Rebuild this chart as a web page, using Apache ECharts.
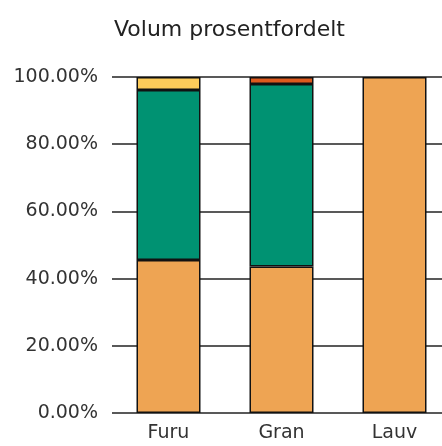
<!DOCTYPE html>
<html>
<head>
<meta charset="utf-8">
<script src="https://cdn.jsdelivr.net/npm/echarts@6/dist/echarts.min.js"></script>
<style>
	html, body { margin: 0; padding: 0; background: #fff; }
	#chart { width: 442px; height: 446px; }
</style>
</head>
<body>
<div id="chart"></div>
<script>
// Categories and stacked shares (percent); '-' = no segment
const categories = ['Furu', 'Gran', 'Lauv'];
const seriesNames = ['A', 'B', 'C', 'D'];
const valuesA = [45.5, 43.6, 100];
const valuesB = [50.6, 54.3, '-'];
const valuesC = [3.9, '-', '-'];
const valuesD = ['-', 2.1, '-'];
const colors = ['#eea453', '#009272', '#fdcc5a', '#dd5a1e'];

const seriesData = [valuesA, valuesB, valuesC, valuesD];

const chart = echarts.init(document.getElementById('chart'));
chart.setOption({
	animation: false,
	title: {
		text: 'Volum prosentfordelt',
		left: 109,
		top: 14,
		textStyle: { fontFamily: 'DejaVu Sans', fontSize: 22, fontWeight: 'normal', color: '#222' }
	},
	grid: {
		left: 112, top: 77, width: 339, height: 336,
		containLabel: false, outerBoundsMode: 'none'
	},
	xAxis: {
		type: 'category',
		data: categories,
		axisLine: { show: false },
		axisTick: { show: false },
		axisLabel: { color: '#333', fontFamily: 'DejaVu Sans', fontSize: 19, margin: 11 }
	},
	yAxis: {
		type: 'value',
		min: 0,
		max: 100,
		interval: 20,
		axisLine: { show: false },
		axisTick: { show: false },
		splitLine: { lineStyle: { color: '#222', width: 1.5 } },
		axisLabel: {
			color: '#333',
			fontFamily: 'DejaVu Sans',
			fontSize: 19,
			margin: 14,
			formatter: v => v.toFixed(2) + '%'
		}
	},
	series: seriesData.map((vals, i) => ({
		name: seriesNames[i],
		type: 'bar',
		stack: 'total',
		barWidth: 64,
		data: vals,
		itemStyle: { color: colors[i], borderColor: '#111', borderWidth: 1.5 }
	}))
});
</script>
</body>
</html>
